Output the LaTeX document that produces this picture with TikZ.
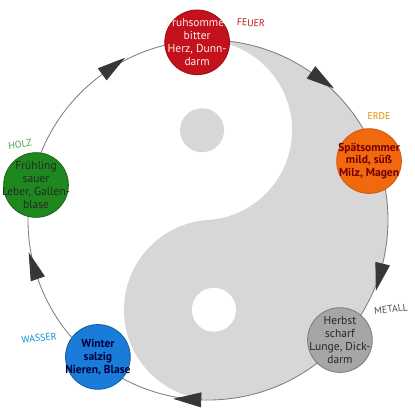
\documentclass[tikz,border=0pt]{standalone}
\usepackage{fontspec}
\setmainfont{PT Sans}
\usepackage{tikz}
\usetikzlibrary{arrows.meta,decorations.markings}
\definecolor{yinGray}{RGB}{216,214,214}
\definecolor{ringGray}{RGB}{125,125,125}
\definecolor{tipGray}{RGB}{55,55,55}
\definecolor{feuerRed}{RGB}{196,18,28}
\definecolor{erdeOrange}{RGB}{242,104,14}
\definecolor{metallGray}{RGB}{166,166,166}
\definecolor{wasserBlue}{RGB}{24,124,216}
\definecolor{holzGreen}{RGB}{30,136,30}
\tikzset{
  >={Triangle[length=20pt,width=10.5pt,color=tipGray]},
  ring/.style={draw=ringGray,line width=0.6pt,
    decoration={markings,
      mark=at position 0.153 with {\arrow{<}},
      mark=at position 0.350 with {\arrow{<}},
      mark=at position 0.553 with {\arrow{<}},
      mark=at position 0.744 with {\arrow{<}},
      mark=at position 0.961 with {\arrow{<}}},
    postaction={decorate}},
  yinbg/.style={fill=yinGray},
  phase/.style={circle,draw,line width=0.6pt,minimum size=46pt,inner sep=-7pt,
    align=center,font=\fontsize{8.2}{9.2}\selectfont},
  feuerfill/.style={fill=feuerRed,draw=feuerRed!80!black,text=red!8},
  erdefill/.style={fill=erdeOrange,draw=erdeOrange!85!black,text=red!45!black,font=\fontsize{8.2}{9.2}\selectfont\bfseries},
  metallfill/.style={fill=metallGray,draw=metallGray!75!black,text=black!85},
  wasserfill/.style={fill=wasserBlue,draw=wasserBlue!75!black,text=blue!25!black,font=\fontsize{8.2}{9.2}\selectfont\bfseries},
  holzfill/.style={fill=holzGreen,draw=holzGreen!75!black,text=black!85},
  elemlbl/.style={font=\fontsize{7}{8}\selectfont,inner sep=1pt},
}
\begin{document}
\begin{tikzpicture}[scale=0.025]
  \useasboundingbox (-208,-195) rectangle (207,220);
  \coordinate (c) at (0,0);
  % yin-yang
  \begin{scope}[rotate=3.8]
    \fill[yinbg] (0,180) arc[start angle=90,end angle=-90,radius=180]
      arc[start angle=-90,end angle=-270,radius=90]
      arc[start angle=-90,end angle=90,radius=90] -- cycle;
    \fill[yinbg] (0,90) circle[radius=22];
    \fill[white] (0,-90) circle[radius=22];
  \end{scope}
  \draw[ring] (c) circle[radius=180];
  % the five phases
  \foreach \nm/\pos/\txt in {
      feuer/{93.5:178}/{Fruhsommer\\bitter\\Herz, Dunn-\\darm},
      erde/{20.1:171.5}/{Spätsommer\\mild, süß\\Milz, Magen},
      metall/{-42.3:178.4}/{Herbst\\scharf\\Lunge, Dick-\\darm},
      wasser/{231.2:175.7}/{Winter\\salzig\\Nieren, Blase},
      holz/{168.5:175.5}/{Frühling\\sauer\\Leber, Gallen-\\blase}} {
    \node[phase,\nm fill] (\nm) at (\pos) {\txt};
  }
  \node[elemlbl,text=feuerRed,rotate=-3] (lfeuer) at (43,197) {FEUER};
  \node[elemlbl,text=orange!80!yellow!90!black] (lerde) at (171,104) {ERDE};
  \node[elemlbl,text=black!70,rotate=6] (lmetall) at (183,-89) {METALL};
  \node[elemlbl,text=cyan!75!blue,rotate=6] (lwasser) at (-169,-118) {WASSER};
  \node[elemlbl,text=holzGreen!80,rotate=8] (lholz) at (-188,76) {HOLZ};
\end{tikzpicture}
\end{document}
